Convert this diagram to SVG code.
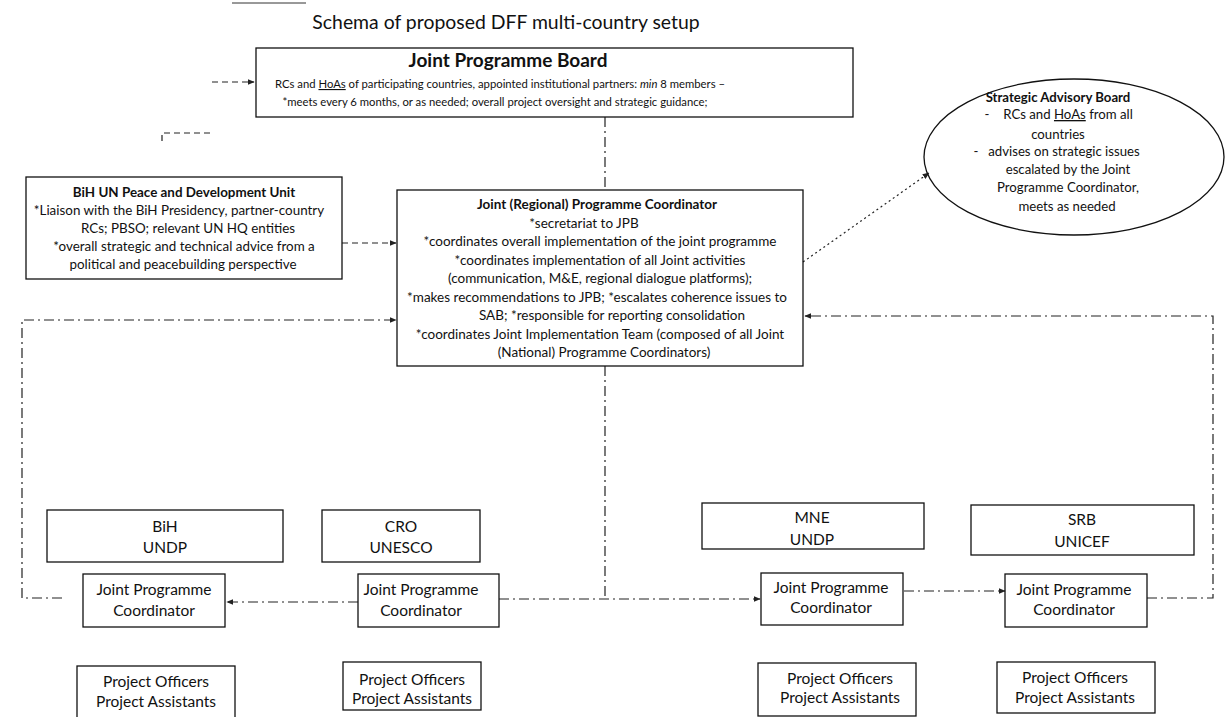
<svg xmlns="http://www.w3.org/2000/svg" width="1229" height="717" viewBox="0 0 1229 717">
<style>
text{font-family:Lato,"Liberation Sans",Arial,sans-serif;fill:#111;text-anchor:middle}
.box{fill:none;stroke:#111;stroke-width:1.3}
.c{fill:none;stroke:#222;stroke-width:1.2}
.dd{stroke-dasharray:10 4 2 4}
.ds{stroke-dasharray:6 4}
.dt{stroke-dasharray:2 3}
.s10{font-size:11.3px}
.s12{font-size:13.4px}
.s12e{font-size:13.2px}
.s13{font-size:13.5px}
.s15{font-size:15.5px}
.b{font-weight:bold}
</style>
<defs>
<marker id="ar" viewBox="0 0 10 10" refX="9" refY="5" markerWidth="7" markerHeight="7" markerUnits="userSpaceOnUse" orient="auto">
<path d="M0,1 L10,5 L0,9 z" fill="#222"/>
</marker>
</defs>
<rect width="1229" height="717" fill="#fff"/>
<line x1="232" y1="3" x2="306" y2="3" stroke="#333" stroke-width="1"/>
<text x="506" y="29" style="font-size:19.4px">Schema of proposed DFF multi-country setup</text>

<g id="connectors">
<path class="c ds" d="M162,141 V133 H210"/>
<path class="c ds" d="M212,82 H254" marker-end="url(#ar)"/>
<path class="c dd" d="M605,117 V190"/>
<path class="c ds" d="M342,243 H396" marker-end="url(#ar)"/>
<path class="c dt" d="M803,262 L929,173" marker-end="url(#ar)"/>
<path class="c dd" d="M62,598 H22 V320 H396" marker-end="url(#ar)"/>
<path class="c dd" d="M1147,598 H1213 V316 H805" marker-end="url(#ar)"/>
<path class="c dd" d="M605,366 V599"/>
<path class="c dd" d="M358,602 H227" marker-end="url(#ar)"/>
<path class="c dd" d="M499,599 H760" marker-end="url(#ar)"/>
<path class="c dd" d="M904,591 H1005" marker-end="url(#ar)"/>
</g>

<g id="jpb">
<rect class="box" x="256" y="48" width="597" height="69"/>
<text x="508" y="67" class="b" style="font-size:19px">Joint Programme Board</text>
<text x="500" y="88" class="s10">RCs and <tspan text-decoration="underline">HoAs</tspan> of participating countries, appointed institutional partners: <tspan font-style="italic">min</tspan> 8 members –</text>
<text x="495" y="106" class="s10">*meets every 6 months, or as needed; overall project oversight and strategic guidance;</text>
</g>

<g id="peace-unit">
<rect class="box" x="26" y="177" width="316" height="102"/>
<text x="184" y="197" class="s12 b">BiH UN Peace and Development Unit</text>
<text x="179" y="215" class="s12">*Liaison with the BiH Presidency, partner-country</text>
<text x="188" y="233" class="s12">RCs; PBSO; relevant UN HQ entities</text>
<text x="184" y="251" class="s12">*overall strategic and technical advice from a</text>
<text x="183" y="269" class="s12">political and peacebuilding perspective</text>
</g>

<g id="regional-coordinator">
<rect class="box" x="397" y="190" width="406" height="176"/>
<text x="597" y="209" class="s13 b">Joint (Regional) Programme Coordinator</text>
<text x="584" y="227.5" class="s13">*secretariat to JPB</text>
<text x="600" y="246" class="s13">*coordinates overall implementation of the joint programme</text>
<text x="600" y="264.5" class="s13">*coordinates implementation of all Joint activities</text>
<text x="600" y="283" class="s13">(communication, M&amp;E, regional dialogue platforms);</text>
<text x="597" y="301.5" class="s13">*makes recommendations to JPB; *escalates coherence issues to</text>
<text x="612" y="320" class="s13">SAB; *responsible for reporting consolidation</text>
<text x="600" y="338.5" class="s13">*coordinates Joint Implementation Team (composed of all Joint</text>
<text x="604" y="357" class="s13">(National) Programme Coordinators)</text>
</g>

<g id="sab">
<ellipse class="box" cx="1074" cy="157" rx="150" ry="78"/>
<text x="1058" y="102" class="s12e b">Strategic Advisory Board</text>
<text x="987" y="119" class="s12e">-</text>
<text x="1068" y="119" class="s12e">RCs and <tspan text-decoration="underline">HoAs</tspan> from all</text>
<text x="1058" y="139" class="s12e">countries</text>
<text x="976" y="156" class="s12e">-</text>
<text x="1064" y="156" class="s12e">advises on strategic issues</text>
<text x="1068" y="174" class="s12e">escalated by the Joint</text>
<text x="1068" y="192" class="s12e">Programme Coordinator,</text>
<text x="1067" y="211" class="s12e">meets as needed</text>
</g>

<g id="bih-agency">
<rect class="box" x="47" y="510" width="236" height="52"/>
<text x="165" y="532" class="s15">BiH</text>
<text x="165" y="553" class="s15">UNDP</text>
</g>
<g id="bih-jpc">
<rect class="box" x="83" y="574" width="142" height="53"/>
<text x="154" y="595" class="s15">Joint Programme</text>
<text x="154" y="616" class="s15">Coordinator</text>
</g>
<g id="bih-staff">
<rect class="box" x="77" y="666" width="158" height="56"/>
<text x="156" y="687" class="s15">Project Officers</text>
<text x="156" y="707" class="s15">Project Assistants</text>
</g>

<g id="cro-agency">
<rect class="box" x="322" y="510" width="158" height="52"/>
<text x="401" y="532" class="s15">CRO</text>
<text x="401" y="553" class="s15">UNESCO</text>
</g>
<g id="cro-jpc">
<rect class="box" x="358" y="574" width="141" height="53"/>
<text x="421" y="595" class="s15">Joint Programme</text>
<text x="421" y="616" class="s15">Coordinator</text>
</g>
<g id="cro-staff">
<rect class="box" x="343" y="662" width="138" height="48"/>
<text x="412" y="685" class="s15">Project Officers</text>
<text x="412" y="704" class="s15">Project Assistants</text>
</g>

<g id="mne-agency">
<rect class="box" x="702" y="503" width="222" height="46"/>
<text x="812" y="523" class="s15">MNE</text>
<text x="812" y="545" class="s15">UNDP</text>
</g>
<g id="mne-jpc">
<rect class="box" x="761" y="573" width="142" height="52"/>
<text x="831" y="593" class="s15">Joint Programme</text>
<text x="831" y="613" class="s15">Coordinator</text>
</g>
<g id="mne-staff">
<rect class="box" x="758" y="663" width="158" height="53"/>
<text x="840" y="684" class="s15">Project Officers</text>
<text x="840" y="703" class="s15">Project Assistants</text>
</g>

<g id="srb-agency">
<rect class="box" x="971" y="505" width="223" height="50"/>
<text x="1082" y="525" class="s15">SRB</text>
<text x="1082" y="547" class="s15">UNICEF</text>
</g>
<g id="srb-jpc">
<rect class="box" x="1005" y="574" width="142" height="53"/>
<text x="1074" y="595" class="s15">Joint Programme</text>
<text x="1074" y="615" class="s15">Coordinator</text>
</g>
<g id="srb-staff">
<rect class="box" x="997" y="662" width="158" height="51"/>
<text x="1075" y="683" class="s15">Project Officers</text>
<text x="1075" y="703" class="s15">Project Assistants</text>
</g>
</svg>
